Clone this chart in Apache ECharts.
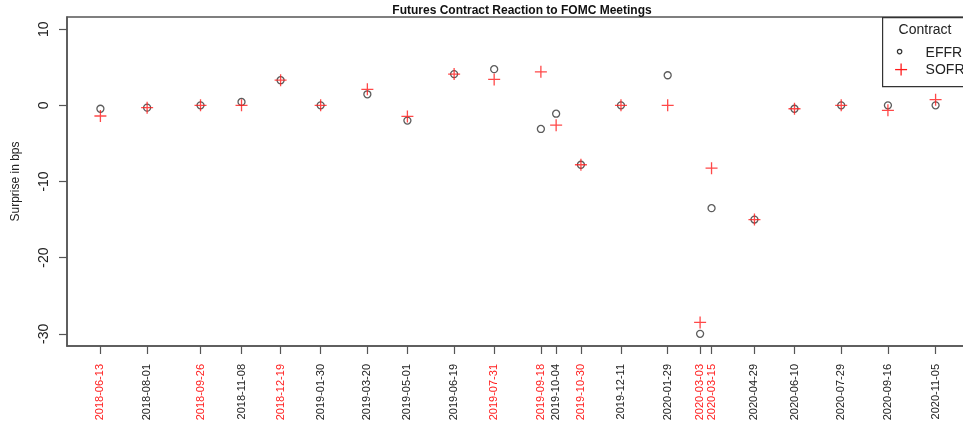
<!DOCTYPE html>
<html>
<head>
<meta charset="utf-8">
<title>Futures Contract Reaction to FOMC Meetings</title>
<script src="https://cdn.jsdelivr.net/npm/echarts@6/dist/echarts.min.js"></script>
<style>
  html, body { margin: 0; padding: 0; background: #fff; }
  #chart { width: 963px; height: 425px; }
</style>
</head>
<body>
<div id="chart"></div>
<script>
// FOMC meeting dates
const meetingDates = [
  '2018-06-13', '2018-08-01', '2018-09-26', '2018-11-08', '2018-12-19',
  '2019-01-30', '2019-03-20', '2019-05-01', '2019-06-19', '2019-07-31',
  '2019-09-18', '2019-10-04', '2019-10-30', '2019-12-11', '2020-01-29',
  '2020-03-03', '2020-03-15', '2020-04-29', '2020-06-10', '2020-07-29',
  '2020-09-16', '2020-11-05'
];

// Meetings where the policy rate was changed (labels drawn in red)
const rateChangeDates = [
  '2018-06-13', '2018-09-26', '2018-12-19', '2019-07-31',
  '2019-09-18', '2019-10-30', '2020-03-03', '2020-03-15'
];

// Surprise in bps, EFFR futures
const effrSurprise = [
  -0.45, -0.3, 0, 0.45, 3.3,
  0, 1.45, -2.0, 4.1, 4.75,
  -3.1, -1.1, -7.8, 0, 3.95,
  -30.0, -13.5, -15.0, -0.45, 0,
  0, 0
];

// Surprise in bps, SOFR futures
const sofrSurprise = [
  -1.4, -0.3, 0, 0, 3.3,
  0, 2.1, -1.45, 4.1, 3.4,
  4.4, -2.6, -7.8, 0, 0,
  -28.5, -8.25, -15.0, -0.45, 0,
  -0.65, 0.75
];

// Y axis limits and tick labels
const yLimits = [-30, 10];
const yTicks = [-30, -20, -10, 0, 10];

const FONT = '"Liberation Sans", Arial, Helvetica, sans-serif';

function toTime(s) {
  const p = s.split('-').map(Number);
  return Date.UTC(p[0], p[1] - 1, p[2]);
}
function fmtDate(t) {
  const d = new Date(t);
  const mm = String(d.getUTCMonth() + 1).padStart(2, '0');
  const dd = String(d.getUTCDate()).padStart(2, '0');
  return d.getUTCFullYear() + '-' + mm + '-' + dd;
}

const times = meetingDates.map(toTime);
const redSet = new Set(rateChangeDates);

// 4% padding on each side of the data range
const xSpan = times[times.length - 1] - times[0];
const xMin = times[0] - 0.04 * xSpan;
const xMax = times[times.length - 1] + 0.04 * xSpan;
const ySpan = yLimits[1] - yLimits[0];
const yMin = yLimits[0] - 0.04 * ySpan;
const yMax = yLimits[1] + 0.04 * ySpan;

const effrData = times.map((t, i) => [t, effrSurprise[i]]);
const sofrData = times.map((t, i) => [t, sofrSurprise[i]]);

const chart = echarts.init(document.getElementById('chart'), null, { renderer: 'canvas' });

const axisColor = '#555';

chart.setOption({
  animation: false,
  backgroundColor: '#fff',
  textStyle: { fontFamily: FONT },
  title: {
    text: 'Futures Contract Reaction to FOMC Meetings',
    left: 517,
    top: 0,
    textAlign: 'center',
    textStyle: { fontFamily: FONT, fontSize: 12, fontWeight: 'bold', color: '#111' }
  },
  grid: {
    left: 67, top: 17, width: 902, height: 329,
    outerBoundsMode: 'none',
    show: true, borderColor: axisColor, borderWidth: 1.5, backgroundColor: 'transparent',
    containLabel: false
  },
  xAxis: {
    type: 'value',
    min: xMin,
    max: xMax,
    splitLine: { show: false },
    axisLine: { show: true, onZero: false, lineStyle: { color: axisColor, width: 1.5 } },
    axisTick: {
      show: true, length: 8, inside: false,
      customValues: times,
      lineStyle: { color: axisColor, width: 1.2 }
    },
    axisLabel: {
      customValues: times,
      rotate: 90,
      margin: 18,
      fontFamily: FONT,
      fontSize: 11,
      formatter: function (v) {
        const s = fmtDate(v);
        return redSet.has(s) ? '{r|' + s + '}' : '{k|' + s + '}';
      },
      rich: {
        r: { color: '#ff2020', fontFamily: FONT, fontSize: 11 },
        k: { color: '#222', fontFamily: FONT, fontSize: 11 }
      }
    }
  },
  yAxis: {
    type: 'value',
    min: yMin,
    max: yMax,
    name: 'Surprise in bps',
    nameLocation: 'middle',
    nameGap: 45,
    nameTextStyle: { fontFamily: FONT, fontSize: 12, color: '#222' },
    splitLine: { show: false },
    axisLine: { show: true, onZero: false, lineStyle: { color: axisColor, width: 1.5 } },
    axisTick: {
      show: true, length: 8, inside: false,
      customValues: yTicks,
      lineStyle: { color: axisColor, width: 1.2 }
    },
    axisLabel: {
      customValues: yTicks,
      rotate: 90,
      margin: 16,
      fontFamily: FONT,
      fontSize: 14,
      color: '#222'
    }
  },
  series: [
    {
      name: 'EFFR',
      type: 'scatter',
      data: effrData,
      symbol: 'circle',
      symbolSize: 7,
      itemStyle: { color: 'transparent', borderColor: '#333', borderWidth: 1.3 },
      emphasis: { disabled: true },
      z: 2
    },
    {
      name: 'SOFR',
      type: 'scatter',
      data: sofrData,
      symbol: 'path://M6,0L6,12M0,6L12,6',
      symbolSize: 12,
      itemStyle: { color: 'transparent', borderColor: '#ff1a1a', borderWidth: 1.3 },
      emphasis: { disabled: true },
      z: 3
    }
  ],
  graphic: [
    {
      type: 'group',
      left: 882,
      top: 17,
      children: [
        {
          type: 'rect',
          shape: { x: 0, y: 0, width: 120, height: 69 },
          style: { fill: '#fff', stroke: '#333', lineWidth: 1.2 }
        },
        {
          type: 'text',
          x: 16, y: 13,
          style: { text: 'Contract', fontFamily: FONT, fontSize: 14, fill: '#222', verticalAlign: 'middle' }
        },
        {
          type: 'circle',
          shape: { cx: 17, cy: 34, r: 2.2 },
          style: { fill: 'none', stroke: '#333', lineWidth: 1.2 }
        },
        {
          type: 'text',
          x: 43, y: 35.5,
          style: { text: 'EFFR', fontFamily: FONT, fontSize: 14, fill: '#222', verticalAlign: 'middle' }
        },
        {
          type: 'polyline',
          shape: { points: [[18.5, 46], [18.5, 58]] },
          style: { stroke: '#ff1a1a', lineWidth: 1.3 }
        },
        {
          type: 'polyline',
          shape: { points: [[12.5, 52], [24.5, 52]] },
          style: { stroke: '#ff1a1a', lineWidth: 1.3 }
        },
        {
          type: 'text',
          x: 43, y: 52.5,
          style: { text: 'SOFR', fontFamily: FONT, fontSize: 14, fill: '#222', verticalAlign: 'middle' }
        }
      ]
    }
  ]
});
</script>
</body>
</html>
